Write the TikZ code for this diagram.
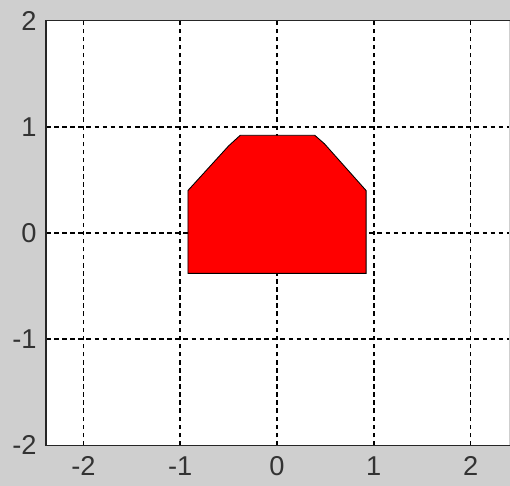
\documentclass[tikz,border=0pt]{standalone}
\usepackage{fontspec}
\setmainfont{Liberation Sans}
\usepackage{tikz}
\usepackage{xcolor}
\definecolor{figgray}{HTML}{CFCFCF}
\definecolor{axiscol}{HTML}{262626}
\definecolor{patchred}{HTML}{FF0000}
\tikzset{
  % dashed grid line
  gridline/.style={black, line width=0.9pt, dash pattern=on 2.6pt off 2pt},
  % axis tick label
  ticklab/.style={font=\fontsize{15.5pt}{18pt}\selectfont, text=black!80,
                  inner sep=0pt},
  % filled polygon patch
  patch/.style={fill=#1, draw=black, line width=0.5pt},
}
\newcommand{\axescanvas}{%
  \fill[figgray] (-2.862,-2.382) rectangle (2.407,2.194);
  \fill[white] (-2.386,-2) rectangle (2.397,2);
  \foreach \x in {-2,-1,0,1,2}
    \draw[gridline] (\x,-2) -- (\x,2);
  \foreach \y in {-1,0,1}
    \draw[gridline] (-2.386,\y) -- (2.397,\y);
}

\begin{document}
\begin{tikzpicture}[x=1.936cm, y=2.124cm]
  \useasboundingbox (-2.862,-2.382) rectangle (2.407,2.194);
  \axescanvas
  % red patch
  \draw[patch=patchred]
    (-0.92,-0.38) -- (0.92,-0.38) -- (0.92,0.40) -- (0.49,0.84)
    -- (0.39,0.92) -- (-0.38,0.92) -- (-0.50,0.82) -- (-0.80,0.52)
    -- (-0.92,0.40) -- cycle;
  % axes box (right edge is cut off)
  \draw[axiscol, line width=0.85pt]
    (2.407,2) -- (-2.386,2) -- (-2.386,-2) -- (2.407,-2);
  % tick labels
  \foreach \y in {-2,-1,0,1,2}
    \node[ticklab, anchor=east] (yl\y) at (-2.48,\y) {\y};
  \foreach \x in {-2,-1,0,1,2}
    \node[ticklab, anchor=north] (xl\x) at (\x,-2.10) {\x};
\end{tikzpicture}
\end{document}
